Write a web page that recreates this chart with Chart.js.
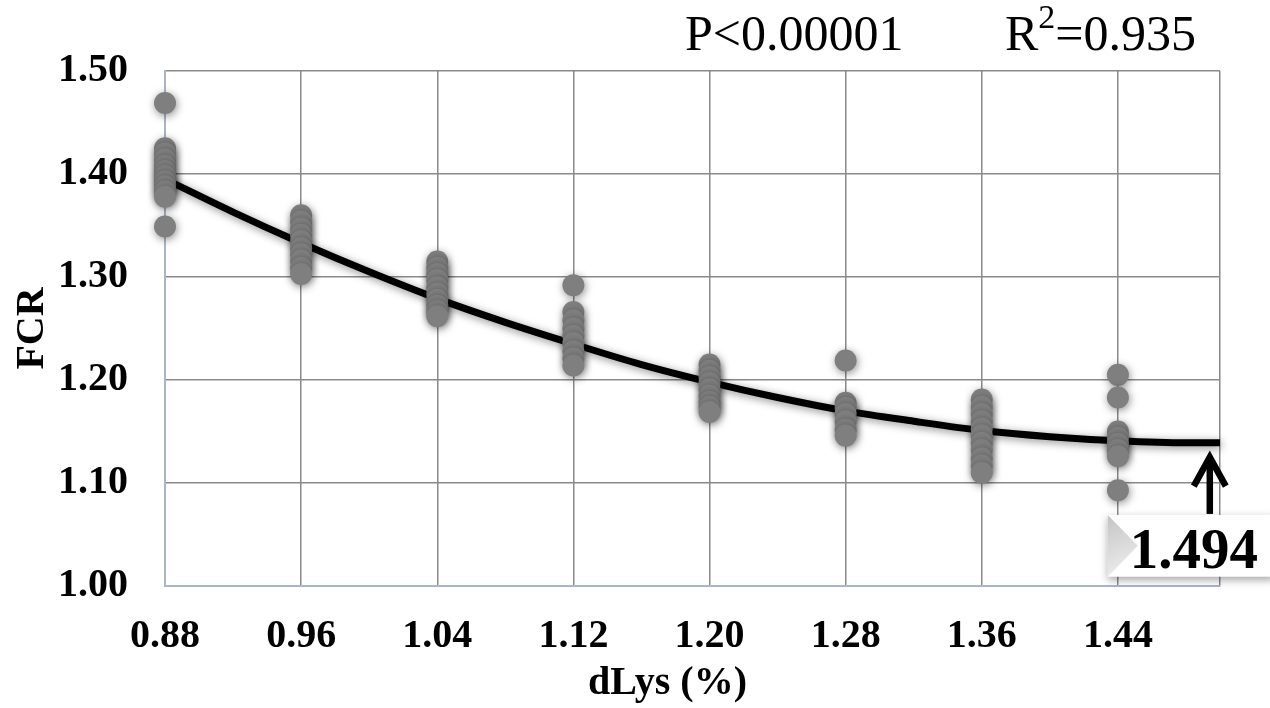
<!DOCTYPE html>
<html><head><meta charset="utf-8">
<script src="https://cdn.jsdelivr.net/npm/chart.js@4.4.1/dist/chart.umd.min.js"></script>
<style>html,body{margin:0;padding:0;background:#fff;}canvas{display:block;}</style>
</head><body>
<canvas id="c" width="1270" height="708"></canvas>
<script>
// ---- data ----
const xTickValues = [0.88, 0.96, 1.04, 1.12, 1.20, 1.28, 1.36, 1.44];
const yTickValues = [1.00, 1.10, 1.20, 1.30, 1.40, 1.50];
const dLysLevels = [0.88, 0.96, 1.04, 1.12, 1.20, 1.28, 1.36, 1.44];
const fcr088 = [1.469, 1.425, 1.420, 1.414, 1.408, 1.403, 1.398, 1.393, 1.388, 1.383, 1.378, 1.349];
const fcr096 = [1.360, 1.354, 1.347, 1.341, 1.335, 1.328, 1.322, 1.316, 1.309, 1.303];
const fcr104 = [1.315, 1.309, 1.303, 1.297, 1.290, 1.284, 1.278, 1.272, 1.267, 1.262];
const fcr112 = [1.292, 1.266, 1.258, 1.250, 1.243, 1.236, 1.228, 1.221, 1.214];
const fcr120 = [1.215, 1.209, 1.203, 1.197, 1.191, 1.185, 1.179, 1.174, 1.169];
const fcr128 = [1.219, 1.178, 1.173, 1.167, 1.160, 1.152, 1.146];
const fcr136 = [1.181, 1.174, 1.167, 1.160, 1.153, 1.146, 1.139, 1.132, 1.124, 1.117, 1.110];
const fcr144 = [1.205, 1.183, 1.150, 1.144, 1.138, 1.132, 1.126, 1.093];
const fcrGroups = [fcr088, fcr096, fcr104, fcr112, fcr120, fcr128, fcr136, fcr144];
// fitted curve
const curveDLys = [0.88, 0.92, 0.96, 1.00, 1.04, 1.08, 1.12, 1.16, 1.20, 1.24, 1.28, 1.32, 1.36, 1.40, 1.44, 1.48, 1.50];
const curveFCR  = [1.395, 1.363, 1.333, 1.305, 1.279, 1.256, 1.235, 1.215, 1.198, 1.183, 1.170, 1.160, 1.151, 1.145, 1.141, 1.139, 1.139];
const optimumDLys = 1.494;
const optimumLabel = '1.494';
const pValueText = 'P<0.00001';
const r2Text = '=0.935';

// ---- build datasets ----
const obsPoints = [];
fcrGroups.forEach((arr, i) => arr.forEach(v => obsPoints.push({x: dLysLevels[i], y: v})));
const curvePoints = curveDLys.map((x, i) => ({x, y: curveFCR[i]}));

const SERIF = "'Liberation Serif', 'Times New Roman', serif";

const shadowPlugin = {
  id: 'shadow',
  beforeDatasetDraw(chart, args) {
    const ctx = chart.ctx;
    ctx.save();
    ctx.shadowColor = 'rgba(0,0,0,0.45)';
    ctx.shadowBlur = 8;
    ctx.shadowOffsetX = 1;
    ctx.shadowOffsetY = 2;
  },
  afterDatasetDraw(chart) { chart.ctx.restore(); }
};

const annotPlugin = {
  id: 'annot',
  afterDraw(chart) {
    const ctx = chart.ctx;
    const xs = chart.scales.x, ys = chart.scales.y;
    ctx.save();
    // top texts
    ctx.fillStyle = '#000';
    ctx.textBaseline = 'alphabetic';
    ctx.textAlign = 'left';
    ctx.font = '50px ' + SERIF;
    ctx.fillText(pValueText, 685, 50);
    let rx = 1005;
    ctx.fillText('R', rx, 50);
    rx += ctx.measureText('R').width;
    ctx.font = '34px ' + SERIF;
    ctx.fillText('2', rx, 28);
    rx += ctx.measureText('2').width;
    ctx.font = '50px ' + SERIF;
    ctx.fillText(r2Text, rx, 50);

    // arrow and label box
    const ax = xs.getPixelForValue(optimumDLys);
    const boxT = ys.getPixelForValue(1.069);
    const boxB = ys.getPixelForValue(1.009);
    const boxL = ax - 102, boxR = ax + 64;
    ctx.save();
    ctx.shadowColor = 'rgba(0,0,0,0.35)';
    ctx.shadowBlur = 8;
    ctx.shadowOffsetY = 3;
    ctx.fillStyle = '#fff';
    ctx.fillRect(boxL, boxT, boxR - boxL, boxB - boxT);
    ctx.restore();
    const g = ctx.createLinearGradient(boxL, boxT, boxL + 30, boxB);
    g.addColorStop(0, '#c4c4c4');
    g.addColorStop(1, '#f2f2f2');
    ctx.fillStyle = g;
    ctx.beginPath();
    ctx.moveTo(boxL, boxT);
    ctx.lineTo(boxL + 30, (boxT + boxB) / 2);
    ctx.lineTo(boxL, boxB);
    ctx.closePath();
    ctx.fill();
    ctx.fillStyle = '#000';
    ctx.font = 'bold 57px ' + SERIF;
    ctx.textAlign = 'center';
    ctx.fillText(optimumLabel, ax - 16, boxB - 9);

    const tipY = ys.getPixelForValue(1.128);
    ctx.strokeStyle = '#000';
    ctx.lineWidth = 6.5;
    ctx.lineCap = 'butt';
    ctx.lineJoin = 'miter';
    ctx.beginPath();
    ctx.moveTo(ax, boxT - 1);
    ctx.lineTo(ax, tipY + 3);
    ctx.stroke();
    ctx.beginPath();
    ctx.moveTo(ax - 16, tipY + 32);
    ctx.lineTo(ax, tipY + 3);
    ctx.lineTo(ax + 16, tipY + 32);
    ctx.stroke();
    ctx.restore();
  }
};

const tickFont = {family: SERIF, size: 40, weight: 'bold'};

new Chart(document.getElementById('c'), {
  type: 'scatter',
  data: {
    datasets: [
      {
        label: 'FCR',
        data: obsPoints,
        backgroundColor: '#7f7f7f',
        borderColor: '#7f7f7f',
        borderWidth: 0,
        pointRadius: 11,
        showLine: false,
        clip: false,
        order: 0
      },
      {
        label: 'fit',
        data: curvePoints,
        showLine: true,
        borderColor: '#000',
        borderWidth: 7,
        pointRadius: 0,
        cubicInterpolationMode: 'monotone',
        fill: false,
        clip: false,
        order: 1
      }
    ]
  },
  options: {
    responsive: false,
    animation: false,
    events: [],
    layout: {padding: {left: 0, right: 50, top: 71, bottom: 0}},
    plugins: {legend: {display: false}, tooltip: {enabled: false}},
    scales: {
      x: {
        type: 'linear', min: 0.88, max: 1.50,
        afterBuildTicks: s => { s.ticks = xTickValues.concat([1.50]).map(v => ({value: v})); },
        afterFit: s => { s.height = 122; },
        ticks: {
          padding: 27, font: tickFont, color: '#000', maxRotation: 0, autoSkip: false,
          callback: v => xTickValues.some(t => Math.abs(t - v) < 1e-9) ? v.toFixed(2) : ''
        },
        grid: {color: '#8a8a8a', lineWidth: 1.5, drawTicks: false},
        border: {color: '#aab6c8', width: 2},
        title: {display: true, text: 'dLys (%)     ', font: tickFont, color: '#000', padding: {top: 0, bottom: 0}}
      },
      y: {
        type: 'linear', min: 1.0, max: 1.5,
        afterBuildTicks: s => { s.ticks = yTickValues.map(v => ({value: v})); },
        afterFit: s => { s.width = 165; },
        ticks: {padding: 37, font: tickFont, color: '#000', callback: v => v.toFixed(2)},
        grid: {color: '#8a8a8a', lineWidth: 1.5, drawTicks: false},
        border: {color: '#aab6c8', width: 2},
        title: {display: true, text: 'FCR', font: tickFont, color: '#000', padding: {top: 9, bottom: 0}}
      }
    }
  },
  plugins: [shadowPlugin, annotPlugin]
});
</script>
</body></html>
